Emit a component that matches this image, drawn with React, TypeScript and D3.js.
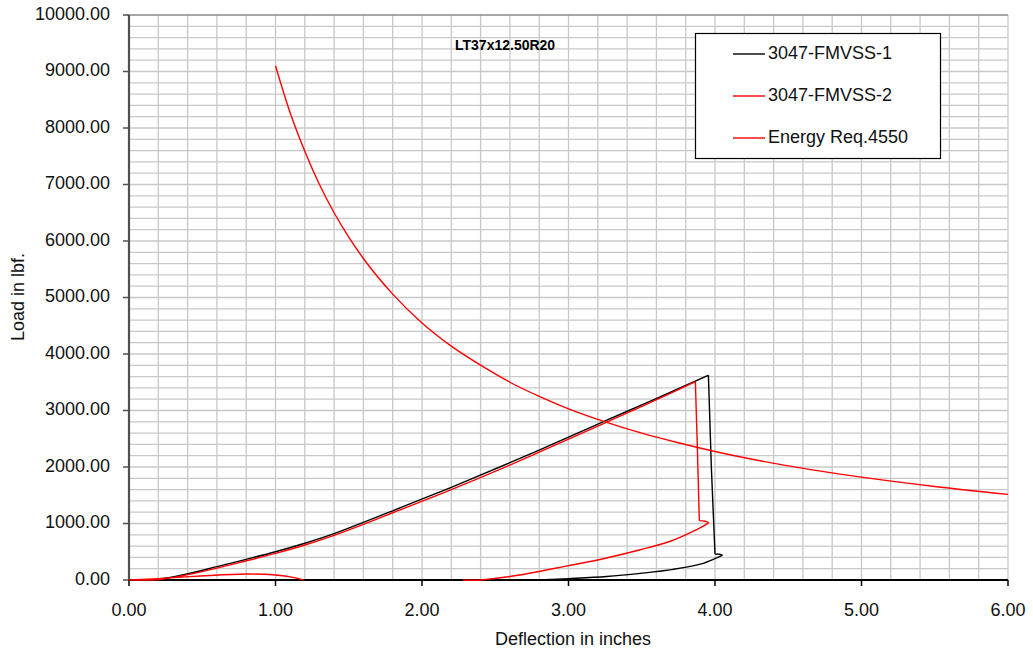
import React from "react";
import * as d3 from "d3";

const title = "LT37x12.50R20";
const xTickLabels = ["0.00", "1.00", "2.00", "3.00", "4.00", "5.00", "6.00"];
const yTickLabels = ["0.00", "1000.00", "2000.00", "3000.00", "4000.00", "5000.00", "6000.00", "7000.00", "8000.00", "9000.00", "10000.00"];
const seriesNames = ["3047-FMVSS-1", "3047-FMVSS-2", "Energy Req.4550"];

// Series 1 (black): loading (to peak), drop, hook + unloading
const s1LoadX = [0, 0.1, 0.2, 0.4, 0.6, 0.8, 1.0, 1.2, 1.4, 1.6, 1.8, 2.2, 2.6, 2.8, 3.0, 3.25, 3.5, 3.75, 3.955];
const s1LoadY = [0, 0, 15, 110, 236, 366, 500, 650, 820, 1020, 1225, 1640, 2076, 2300, 2530, 2815, 3100, 3385, 3625];
const s1DropX = [3.955, 3.975, 4.0];
const s1DropY = [3625, 2000, 460];
const s1UnloadX = [4.0, 4.03, 4.05, 4.03, 3.92, 3.715, 3.49, 3.26, 3.0, 2.8];
const s1UnloadY = [460, 455, 438, 412, 295, 189, 118, 62, 24, 0];

// Series 2 (red): loading, drop, hook + unloading, small hump near origin
const s2LoadX = [0, 0.1, 0.2, 0.4, 0.6, 0.8, 1.0, 1.2, 1.4, 1.6, 1.8, 2.2, 2.6, 2.8, 3.0, 3.25, 3.5, 3.75, 3.866];
const s2LoadY = [0, 0, 10, 95, 210, 340, 472, 620, 790, 985, 1190, 1600, 2035, 2262, 2492, 2782, 3072, 3368, 3510];
const s2DropX = [3.866, 3.88, 3.893];
const s2DropY = [3510, 2300, 1050];
const s2UnloadX = [3.893, 3.93, 3.955, 3.94, 3.85, 3.7, 3.49, 3.2, 3.0, 2.8, 2.6, 2.4, 2.28];
const s2UnloadY = [1050, 1040, 1015, 985, 860, 690, 535, 355, 255, 150, 62, 0, 0];
const s2HumpX = [1.19, 1.12, 1.0, 0.8, 0.49, 0.2, 0];
const s2HumpY = [0, 47, 88, 106, 71, 25, 0];

// Energy requirement curve (red)
const eX = [1.0, 1.1, 1.2, 1.3, 1.4, 1.5, 1.6, 1.8, 2.0, 2.2, 2.44, 2.6, 2.8, 3.0, 3.25, 3.5, 3.75, 4.0, 4.5, 5.0, 5.5, 6.0];
const eY = [9103, 8270, 7590, 7000, 6500, 6070, 5690, 5060, 4550, 4140, 3740, 3500, 3250, 3030, 2800, 2600, 2430, 2275, 2020, 1820, 1655, 1515];

const W = 1033, H = 653;
const L = 129, R = 1008, T = 15, B = 580;
const FONT = "'Liberation Sans', Arial, sans-serif";

type P = [number, number];
const mk = (xs: number[], ys: number[]): P[] => xs.map((v, i) => [v, ys[i]]);

export default function App() {
  const x = d3.scaleLinear().domain([0, 6]).range([L, R]);
  const y = d3.scaleLinear().domain([0, 10000]).range([B, T]);

  const vGrid = d3.range(1, 31).map((i) => i * 0.2);
  const hGrid = d3.range(1, 51).map((i) => i * 200);

  const mkLine = (curve: d3.CurveFactory) =>
    d3.line<P>().x((d) => x(d[0])).y((d) => y(d[1])).curve(curve);
  const smoothX = mkLine(d3.curveMonotoneX);
  const straight = mkLine(d3.curveLinear);
  const smooth = mkLine(d3.curveCatmullRom.alpha(0.5));

  const s1Path =
    (smoothX(mk(s1LoadX, s1LoadY)) || "") +
    (straight(mk(s1DropX, s1DropY)) || "") +
    (smooth(mk(s1UnloadX, s1UnloadY)) || "");
  const s2Path =
    (smoothX(mk(s2LoadX, s2LoadY)) || "") +
    (straight(mk(s2DropX, s2DropY)) || "") +
    (smooth(mk(s2UnloadX, s2UnloadY)) || "") +
    (smooth(mk(s2HumpX, s2HumpY)) || "");
  const ePath = smoothX(mk(eX, eY)) || "";

  const legendRows = [
    { name: seriesNames[0], color: "#000000", y: 54 },
    { name: seriesNames[1], color: "#ff0000", y: 96 },
    { name: seriesNames[2], color: "#ff0000", y: 138 },
  ];

  return (
    <svg width={W} height={H} style={{ position: "absolute", left: 0, top: 0, background: "#fff" }} fontFamily={FONT}>
      <defs>
        <clipPath id="plot">
          <rect x={L} y={T - 1} width={R - L + 2} height={B - T + 2} />
        </clipPath>
      </defs>
      <rect x={0} y={0} width={W} height={H} fill="#fff" />
      {/* grid */}
      {vGrid.map((v, i) => (
        <line key={"v" + i} x1={x(v)} x2={x(v)} y1={T} y2={B} stroke="#c8c8c8" strokeWidth={1.3} />
      ))}
      {hGrid.map((v, i) => (
        <line key={"h" + i} x1={L} x2={R} y1={y(v)} y2={y(v)} stroke={v === 10000 ? "#8a8a8a" : "#c8c8c8"} strokeWidth={1.3} />
      ))}
      {/* y axis */}
      <line x1={L} x2={L} y1={T} y2={B} stroke="#505050" strokeWidth={2.2} />
      {yTickLabels.map((t, i) => (
        <g key={"yt" + i}>
          <line x1={L - 6} x2={L} y1={y(i * 1000)} y2={y(i * 1000)} stroke="#505050" strokeWidth={1.5} />
          <text x={110} y={y(i * 1000)} textAnchor="end" dominantBaseline="middle" fontSize={18} fill="#111">
            {t}
          </text>
        </g>
      ))}
      {/* x axis */}
      <line x1={L} x2={R} y1={B} y2={B} stroke="#000" strokeWidth={2} />
      {xTickLabels.map((t, i) => (
        <g key={"xt" + i}>
          <line x1={x(i)} x2={x(i)} y1={B} y2={B + 6} stroke="#000" strokeWidth={1.5} />
          <text x={x(i)} y={616} textAnchor="middle" fontSize={18} fill="#111">
            {t}
          </text>
        </g>
      ))}
      {/* series */}
      <g clipPath="url(#plot)" fill="none" strokeLinejoin="miter">
        <path d={s1Path} stroke="#000" strokeWidth={1.4} />
        <path d={s2Path} stroke="#ff0000" strokeWidth={1.4} />
        <path d={ePath} stroke="#ff0000" strokeWidth={1.4} />
      </g>
      {/* title */}
      <text x={455} y={50} fontSize={14} fontWeight="bold" fill="#000">
        {title}
      </text>
      {/* axis titles */}
      <text x={573} y={645} textAnchor="middle" fontSize={18} fill="#111">
        Deflection in inches
      </text>
      <text transform={`translate(24, 297) rotate(-90)`} textAnchor="middle" fontSize={18} fill="#111">
        Load in lbf.
      </text>
      {/* legend */}
      <rect x={695.5} y={33.5} width={245} height={125} fill="#fff" stroke="#000" strokeWidth={1.2} />
      {legendRows.map((r, i) => (
        <g key={"lg" + i}>
          <line x1={733} x2={765} y1={r.y} y2={r.y} stroke={r.color} strokeWidth={1.4} />
          <text x={768} y={r.y} dominantBaseline="middle" fontSize={18} fill="#111">
            {r.name}
          </text>
        </g>
      ))}
    </svg>
  );
}
